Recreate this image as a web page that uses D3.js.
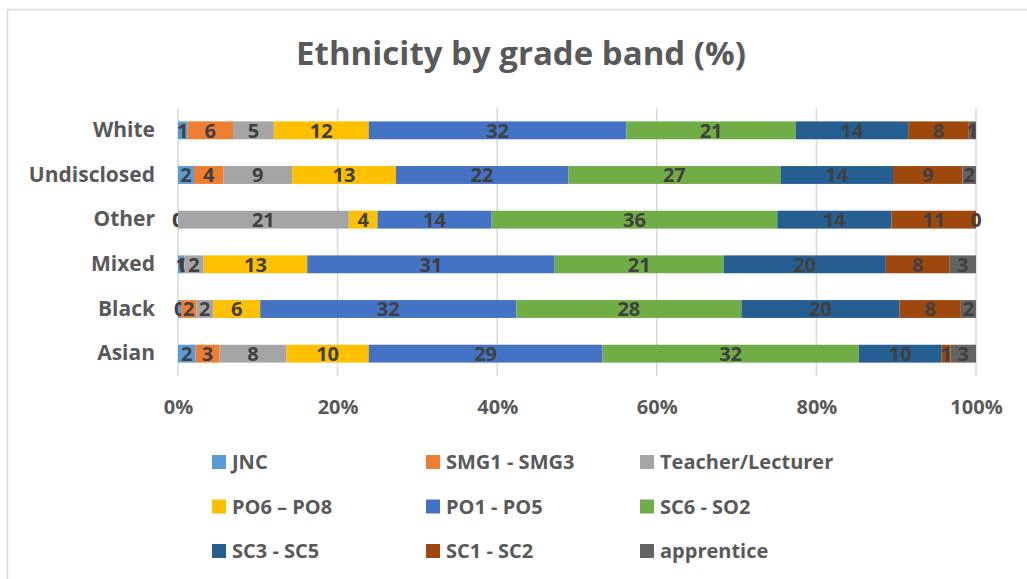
<!DOCTYPE html>
<meta charset="utf-8">
<style>
body { margin: 0; background: #fff; }
svg { font-family: "Open Sans", "Liberation Sans", sans-serif; }
</style>
<svg width="1027" height="579"></svg>
<script src="https://cdn.jsdelivr.net/npm/d3@7"></script>
<script>

// categories, top to bottom as drawn
var groups = ["White", "Undisclosed", "Other", "Mixed", "Black", "Asian"];

var bands = ["JNC", "SMG1 - SMG3", "Teacher/Lecturer", "PO6 \u2013 PO8", "PO1 - PO5",
             "SC6 - SO2", "SC3 - SC5", "SC1 - SC2", "apprentice"];

var colors = ["#5B9BD5", "#ED7D31", "#A5A5A5", "#FFC000", "#4472C4",
              "#70AD47", "#255E91", "#9E480E", "#636363"];

// percentage per grade band, one array per ethnicity (order of bands)
var white       = [1.2, 5.7, 5.1, 11.9, 32.3, 21.2, 14.1, 7.6, 0.9];
var undisclosed = [2.0, 3.7, 8.6, 13.0, 21.6, 26.6, 14.1, 8.7, 1.7];
var other       = [0.0, 0.0, 21.4, 3.6, 14.3, 35.8, 14.3, 10.6, 0.0];
var mixed       = [0.8, 0.0, 2.4, 13.0, 31.0, 21.2, 20.3, 8.0, 3.3];
var black       = [0.4, 1.9, 2.1, 5.9, 32.1, 28.2, 19.8, 7.7, 1.9];
var asian       = [2.2, 3.0, 8.4, 10.3, 29.3, 32.1, 10.4, 1.1, 3.2];

var xTicks = [0, 20, 40, 60, 80, 100];

var svg = d3.select("svg");

// rows for d3.stack
var rows = [white, undisclosed, other, mixed, black, asian].map(function(v, i) {
  var r = { group: groups[i] };
  bands.forEach(function(b, j) { r[b] = v[j]; });
  return r;
});

var series = d3.stack().keys(bands)(rows);

var x = d3.scaleLinear().domain([0, 100]).range([178, 976]);
var y = d3.scaleBand().domain(groups).range([108, 376]).paddingInner(0.6).paddingOuter(0.3);
var color = d3.scaleOrdinal().domain(bands).range(colors);
var fmt = d3.format(".0f");

// chart border
svg.append("rect")
    .attr("x", 7.5).attr("y", 9.5)
    .attr("width", 1040).attr("height", 600)
    .attr("fill", "none")
    .attr("stroke", "#d9d9d9")
    .attr("stroke-width", 1.5);

// title
svg.append("text")
    .attr("x", 521).attr("y", 65)
    .attr("text-anchor", "middle")
    .attr("font-size", 33)
    .attr("font-weight", "bold")
    .attr("fill", "#595959")
    .text("Ethnicity by grade band (%)");

// gridlines
svg.append("g")
  .selectAll("line")
  .data(xTicks)
  .join("line")
    .attr("x1", function(d) { return x(d); })
    .attr("x2", function(d) { return x(d); })
    .attr("y1", 108).attr("y2", 376)
    .attr("stroke", "#d9d9d9")
    .attr("stroke-width", 1.5);

// x axis labels
var xAxis = svg.append("g")
    .attr("transform", "translate(0,376)")
    .call(d3.axisBottom(x).tickValues(xTicks).tickFormat(function(d) { return d + "%"; }).tickSize(0).tickPadding(24));
xAxis.select(".domain").remove();
xAxis.selectAll("text")
    .attr("font-family", "\"Open Sans\", sans-serif")
    .attr("font-size", 20)
    .attr("font-weight", "bold")
    .attr("fill", "#595959");

// y axis labels
var yAxis = svg.append("g")
    .attr("transform", "translate(178,0)")
    .call(d3.axisLeft(y).tickSize(0).tickPadding(23));
yAxis.select(".domain").remove();
yAxis.selectAll("text")
    .attr("font-family", "\"Open Sans\", sans-serif")
    .attr("font-size", 21)
    .attr("font-weight", "bold")
    .attr("fill", "#595959");

// bars
var layer = svg.append("g")
  .selectAll("g")
  .data(series)
  .join("g")
    .attr("fill", function(d) { return color(d.key); });

layer.selectAll("rect")
  .data(function(d) { return d; })
  .join("rect")
    .attr("x", function(d) { return x(d[0]); })
    .attr("y", function(d) { return y(d.data.group); })
    .attr("width", function(d) { return x(d[1]) - x(d[0]); })
    .attr("height", y.bandwidth());

// data labels
layer.selectAll("text")
  .data(function(d) { return d.map(function(p) { return { p: p, key: d.key }; }); })
  .join("text")
    .attr("x", function(d) { return (x(d.p[0]) + x(d.p[1])) / 2; })
    .attr("y", function(d) { return y(d.p.data.group) + y.bandwidth() / 2; })
    .attr("dy", "0.36em")
    .attr("text-anchor", "middle")
    .attr("font-size", 20)
    .attr("font-weight", "bold")
    .attr("fill", "#404040")
    .text(function(d) { return fmt(d.p.data[d.key]); });

// legend, 3 columns
var legend = svg.append("g")
  .selectAll("g")
  .data(bands)
  .join("g")
    .attr("transform", function(d, i) {
      return "translate(" + (212 + (i % 3) * 214) + "," + (462 + Math.floor(i / 3) * 44.5) + ")";
    });

legend.append("rect")
    .attr("x", 0).attr("y", -7)
    .attr("width", 14).attr("height", 14)
    .attr("fill", function(d) { return color(d); });

legend.append("text")
    .attr("x", 20)
    .attr("dy", "0.36em")
    .attr("font-size", 20)
    .attr("font-weight", "bold")
    .attr("fill", "#595959")
    .text(function(d) { return d; });

</script>
